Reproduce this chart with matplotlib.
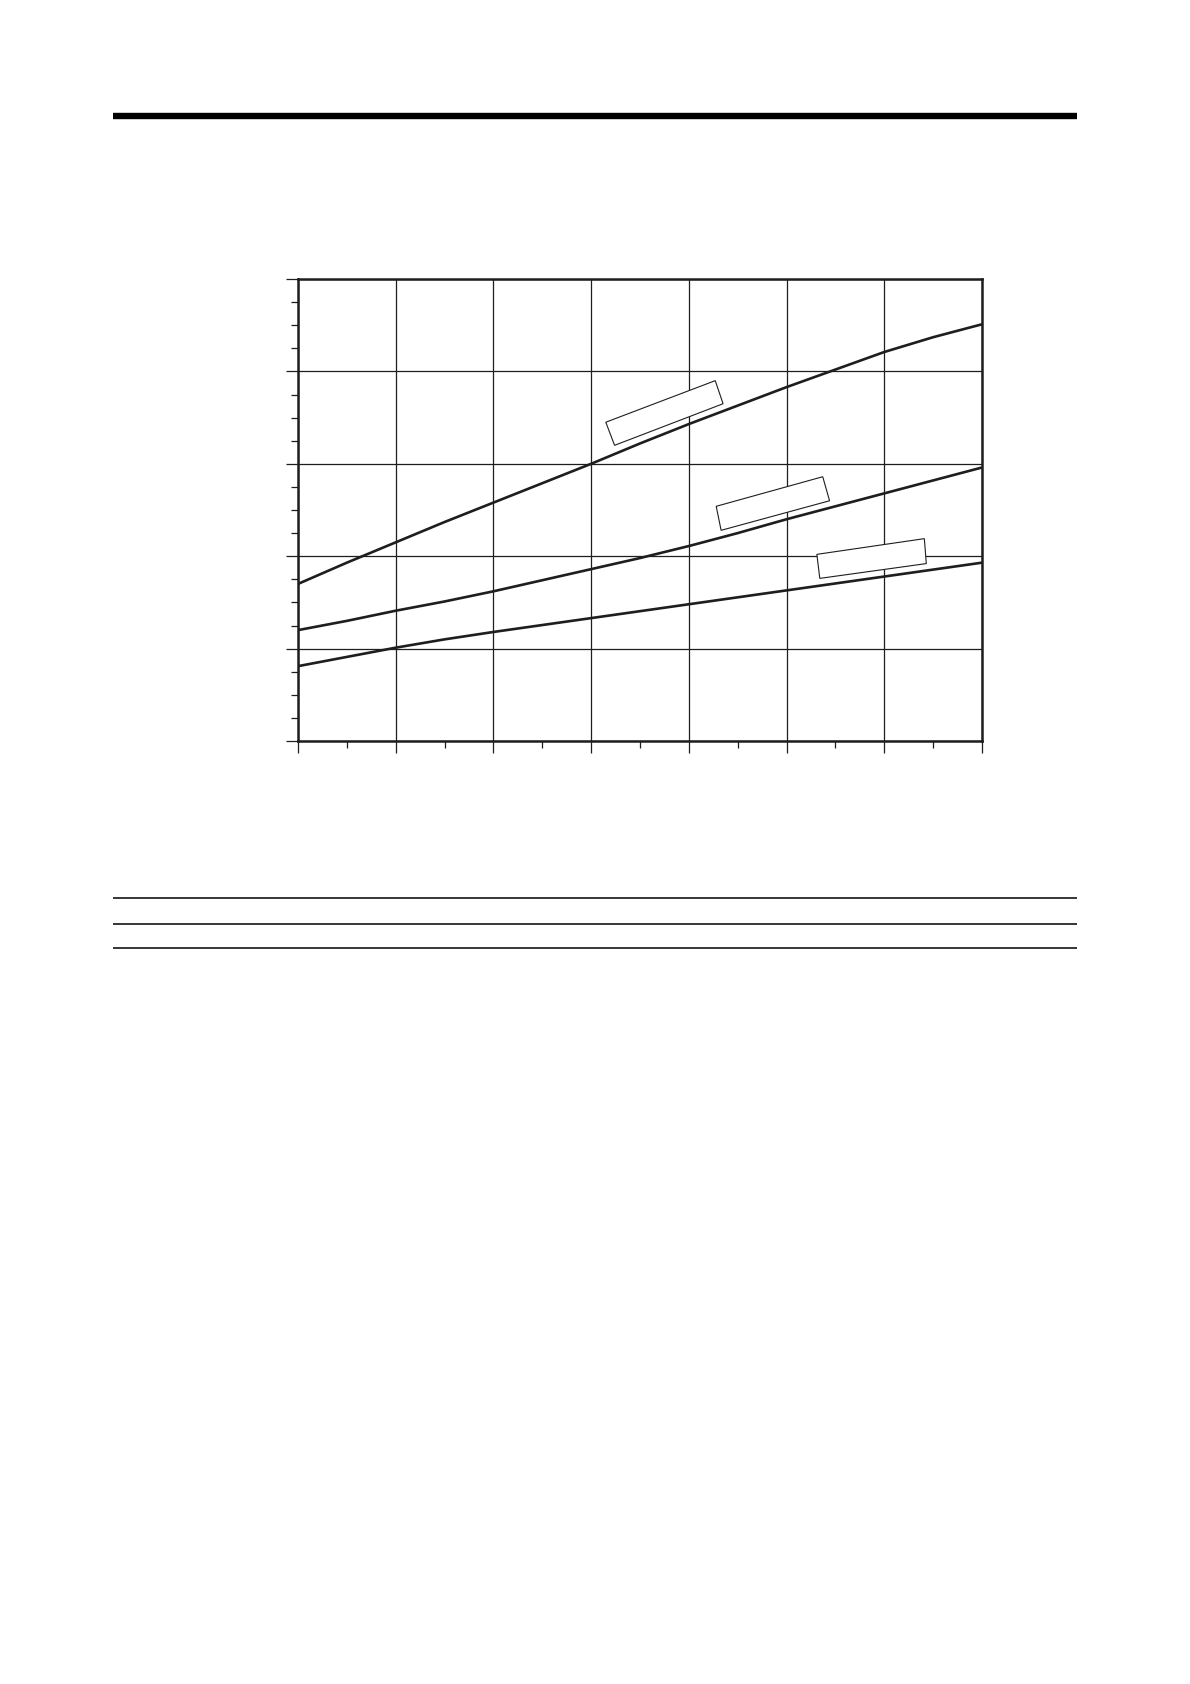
import matplotlib
matplotlib.use("Agg")
import matplotlib.pyplot as plt
from matplotlib.patches import Polygon
from matplotlib.lines import Line2D
from matplotlib.ticker import MultipleLocator, NullFormatter

# values (grid units, no labels on the chart)
x = [0, 0.5, 1, 1.5, 2, 2.5, 3, 3.5, 4, 4.5, 5, 5.5, 6, 6.5, 7]
upper = [1.70, 1.93, 2.15, 2.37, 2.58, 2.79, 3.00, 3.22, 3.43, 3.63, 3.83, 4.02, 4.21, 4.37, 4.51]
middle = [1.20, 1.30, 1.41, 1.51, 1.62, 1.74, 1.86, 1.98, 2.11, 2.25, 2.40, 2.54, 2.68, 2.82, 2.96]
lower = [0.81, 0.91, 1.01, 1.10, 1.18, 1.255, 1.33, 1.405, 1.48, 1.555, 1.63, 1.705, 1.78, 1.855, 1.93]

# empty label boxes (corners in data units)
box_upper = [(3.15, 3.45), (4.27, 3.90), (4.35, 3.65), (3.24, 3.20)]
box_middle = [(4.28, 2.54), (5.37, 2.86), (5.44, 2.60), (4.33, 2.28)]
box_lower = [(5.31, 2.02), (6.41, 2.19), (6.43, 1.92), (5.34, 1.76)]

W, H = 1190, 1684
fig = plt.figure(figsize=(W / 100, H / 100), dpi=100)

# axes placed in pixel terms: left 298, right 982, top 279, bottom 741
left, right, top, bottom = 298, 982, 279, 741
ax = fig.add_axes([left / W, 1 - bottom / H, (right - left) / W, (bottom - top) / H])

ink = "#1e1e1e"
for ys in [upper, middle, lower]:
    ax.plot(x, ys, color=ink, lw=1.9, zorder=4, solid_capstyle="butt")

for corners in [box_upper, box_middle, box_lower]:
    ax.add_patch(Polygon(corners, closed=True, facecolor="white",
                         edgecolor=ink, lw=0.8, zorder=3))

ax.set_xlim(0, 7)
ax.set_ylim(0, 5)
ax.xaxis.set_major_locator(MultipleLocator(1))
ax.xaxis.set_minor_locator(MultipleLocator(0.5))
ax.yaxis.set_major_locator(MultipleLocator(1))
ax.yaxis.set_minor_locator(MultipleLocator(0.25))
ax.xaxis.set_major_formatter(NullFormatter())
ax.yaxis.set_major_formatter(NullFormatter())
ax.tick_params(which="major", direction="out", length=8.6, width=0.9, color=ink)
ax.tick_params(which="minor", direction="out", length=5, width=0.9, color=ink)
ax.grid(True, which="major", color=ink, lw=0.9)
ax.set_axisbelow(True)
for s in ax.spines.values():
    s.set_linewidth(1.8)
    s.set_color(ink)
    s.set_zorder(5)

# page rules above and below the chart
def rule(y, lw):
    fig.add_artist(Line2D([113 / W, 1077 / W], [1 - y / H, 1 - y / H],
                          color="black", lw=lw, solid_capstyle="butt",
                          transform=fig.transFigure))

rule(116, 4.6)
rule(898, 1.1)
rule(924, 1.1)
rule(948, 1.1)

fig.savefig("out.png", dpi=100, facecolor="white")
